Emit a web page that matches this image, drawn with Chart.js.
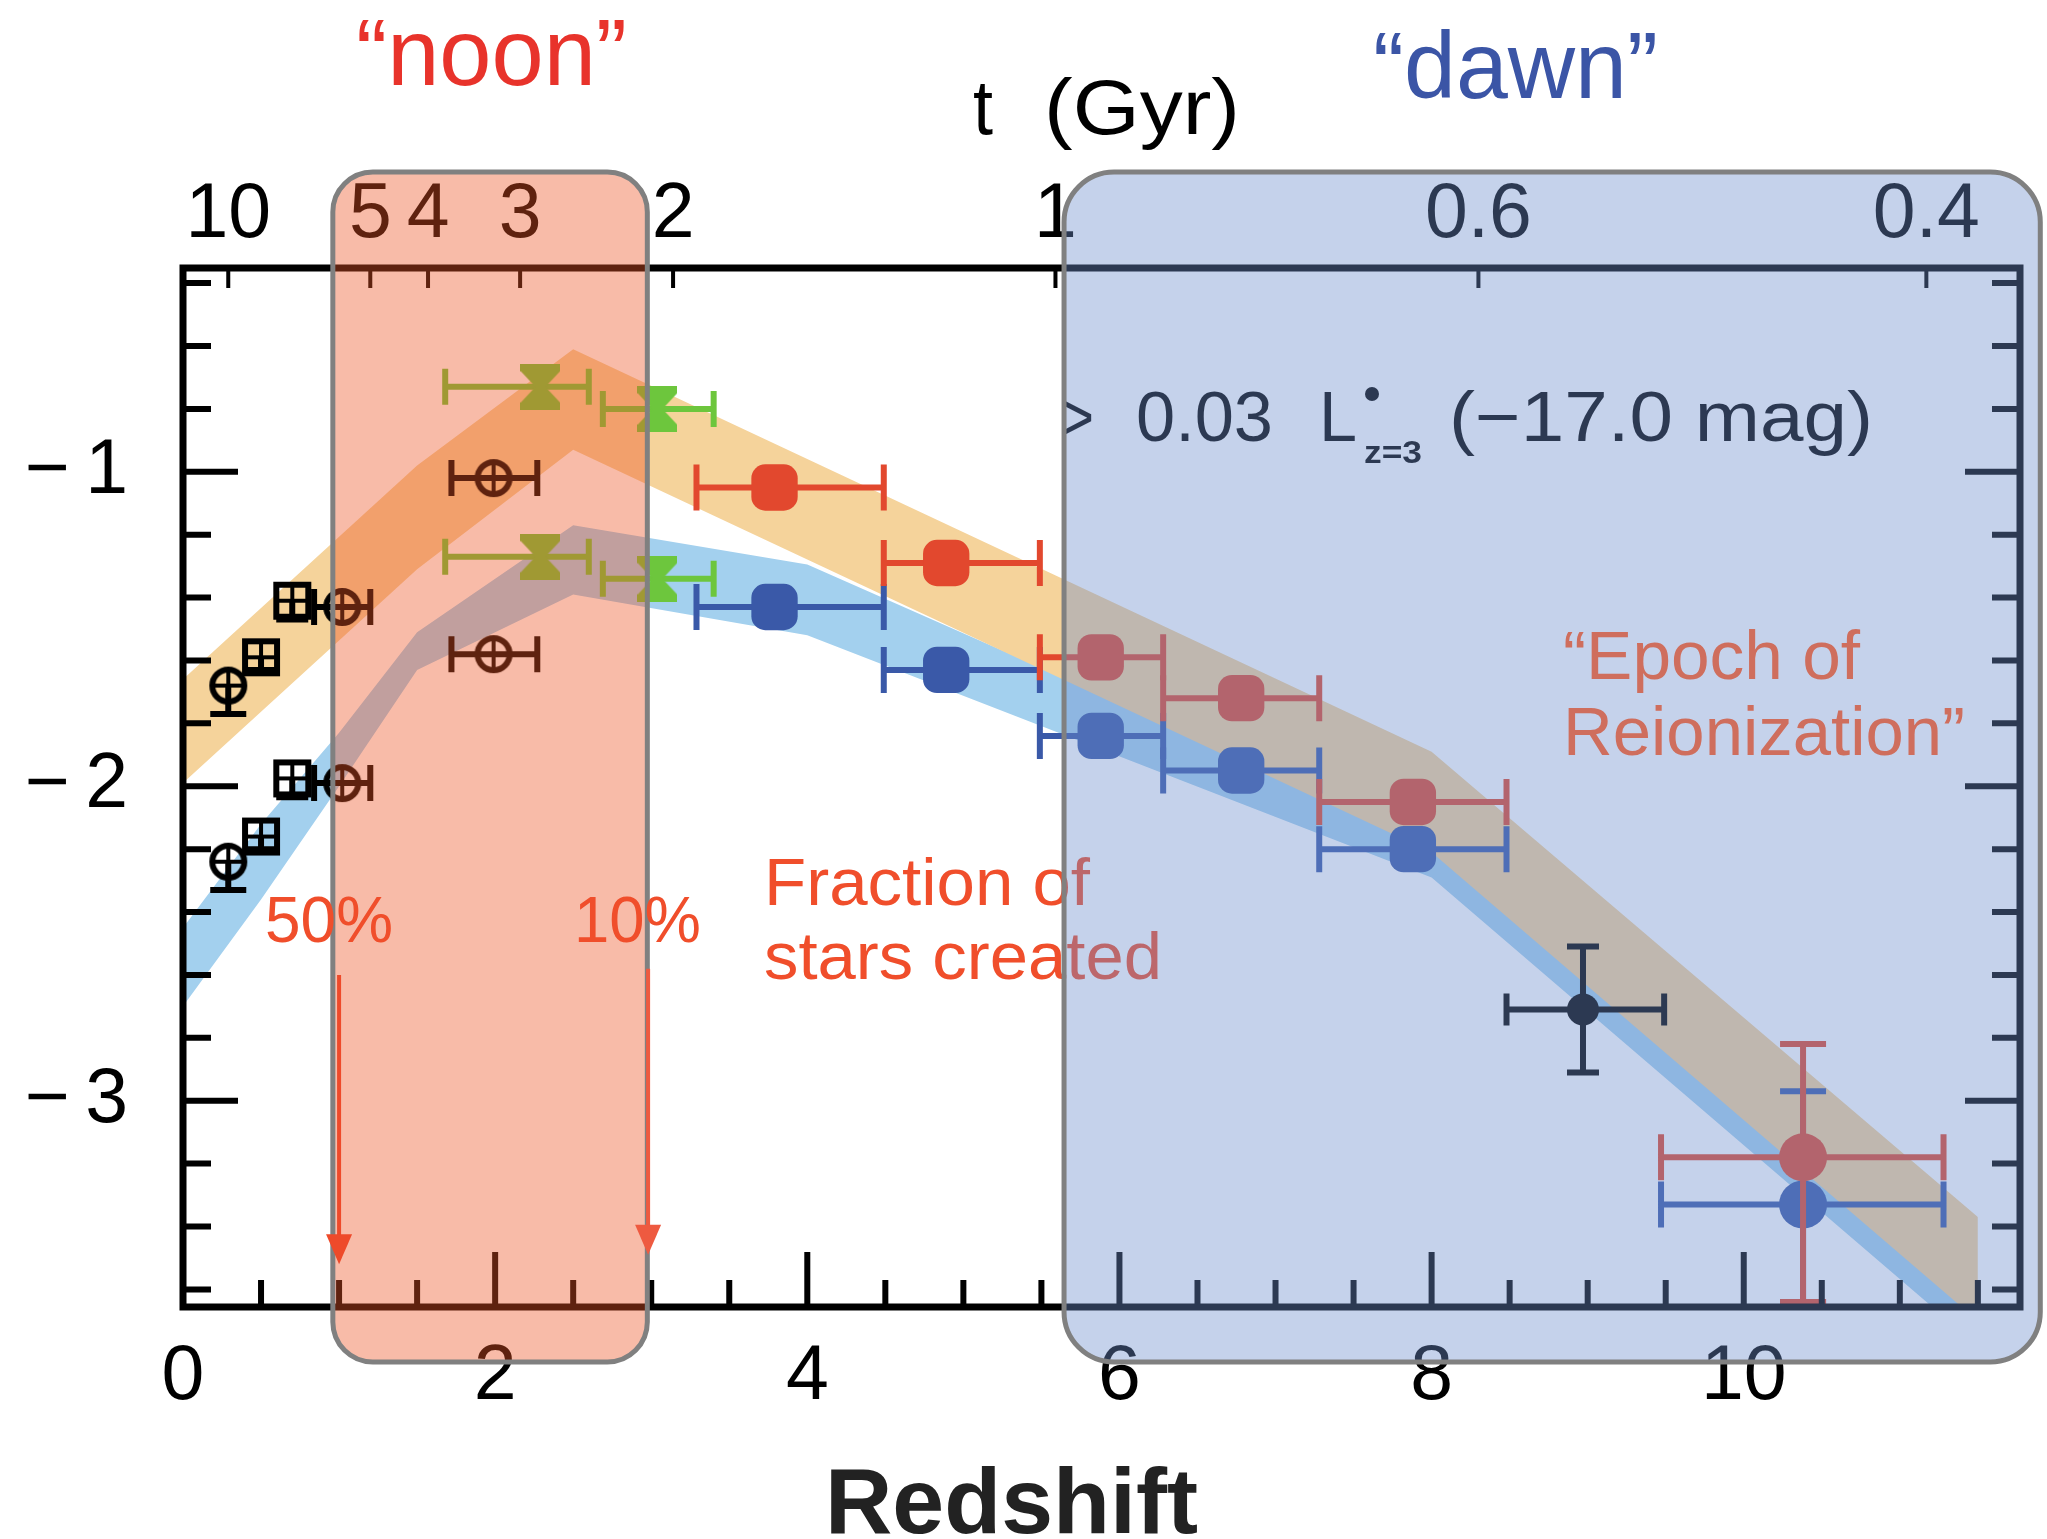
<!DOCTYPE html>
<html>
<head>
<meta charset="utf-8">
<script src="https://cdn.jsdelivr.net/npm/chart.js@4.4.1/dist/chart.umd.min.js"></script>
<style>
  html, body { margin: 0; padding: 0; background: #fff; }
  #chart { display: block; }
</style>
</head>
<body>
<canvas id="chart" width="2047" height="1539"></canvas>
<script>
const FONT = "'Liberation Sans', Arial, sans-serif";

// axis ranges: redshift (bottom) and log SFR density (left)
const zRange = [0, 11.77];
const yRange = [-3.656, -0.352];

// top axis: age of the universe in Gyr, placed at redshift
const ageLabels = ['10', '5', '4', '3', '2', '1', '0.6', '0.4'];
const ageAtZ = [0.29, 1.20, 1.57, 2.16, 3.14, 5.59, 8.30, 11.17];

// shaded bands (upper = dust corrected, lower = uncorrected)
const orangeZ = [0, 1.5, 2.5, 8.0, 11.5];
const orangeTop = [-1.66, -0.98, -0.61, -1.89, -3.37];
const orangeBottom = [-1.99, -1.31, -0.93, -2.21, -3.70];
const blueZ = [0, 0.5, 1.0, 1.5, 2.5, 4.0, 8.0, 11.5];
const blueTop = [-2.45, -2.12, -1.83, -1.51, -1.17, -1.295, -2.17, -3.60];
const blueBottom = [-2.70, -2.36, -2.00, -1.63, -1.39, -1.52, -2.29, -3.78];

// low-z black points, circles
const circZ = [0.29, 1.02, 1.99];
const circZLo = [null, 0.84, 1.72];
const circZHi = [null, 1.20, 2.27];
const circUpperY = [-1.68, -1.43, -1.02];
const circUpperYLo = [-1.77, null, null];
const circLowerY = [-2.24, -1.99, -1.58];
const circLowerYLo = [-2.33, null, null];

// low-z black points, squares
const sqZ = [0.50, 0.70];
const sqUpperY = [-1.59, -1.41];
const sqUpperYLo = [-1.63, -1.47];
const sqLowerY = [-2.16, -1.975];
const sqLowerYLo = [-2.20, -2.035];

// green points z~2-3
const greenZ = [2.29, 3.04];
const greenZLo = [1.68, 2.69];
const greenZHi = [2.60, 3.40];
const greenUpperY = [-0.73, -0.80];
const greenLowerY = [-1.27, -1.34];

// red / blue points z~4-10
const bZ = [3.79, 4.89, 5.88, 6.78, 7.88, 10.38];
const bZLo = [3.29, 4.49, 5.49, 6.28, 7.28, 9.47];
const bZHi = [4.49, 5.49, 6.28, 7.28, 8.48, 11.28];
const redY = [-1.05, -1.29, -1.59, -1.72, -2.05, -3.18];
const redYLo = [null, null, null, null, null, -3.64];
const redYHi = [null, null, null, null, null, -2.82];
const blueY = [-1.43, -1.63, -1.84, -1.95, -2.20, -3.33];
const blueYLo = [null, null, null, null, null, -3.64];
const blueYHi = [null, null, null, null, null, -2.97];

// z~9 point
const z9Z = [8.97];
const z9ZLo = [8.48];
const z9ZHi = [9.49];
const z9Y = [-2.71];
const z9YLo = [-2.91];
const z9YHi = [-2.51];

// highlighted redshift ranges
const noonRange = [0.96, 2.975];
const dawnRange = [5.645, 11.9];

function pts(xs, ys) {
  return xs.map((x, i) => ({ x, y: ys[i] }));
}

function errs(n, zLo, zHi, yLo, yHi) {
  const out = [];
  for (let i = 0; i < n; i++) {
    out.push({
      xLo: zLo ? zLo[i] : null, xHi: zHi ? zHi[i] : null,
      yLo: yLo ? yLo[i] : null, yHi: yHi ? yHi[i] : null
    });
  }
  return out;
}

function marker(w, h, draw) {
  const c = document.createElement('canvas');
  c.width = w; c.height = h;
  draw(c.getContext('2d'), w, h);
  return c;
}

const circCross = marker(42, 42, g => {
  g.strokeStyle = '#000';
  g.lineWidth = 6;
  g.beginPath(); g.arc(21, 21, 16, 0, Math.PI * 2); g.stroke();
  g.lineWidth = 4;
  g.beginPath(); g.moveTo(5, 21); g.lineTo(37, 21); g.moveTo(21, 5); g.lineTo(21, 37); g.stroke();
});

const sqCross = marker(40, 40, g => {
  g.strokeStyle = '#000';
  g.lineWidth = 6;
  g.strokeRect(4, 4, 32, 32);
  g.lineWidth = 4;
  g.beginPath(); g.moveTo(4, 20); g.lineTo(36, 20); g.moveTo(20, 4); g.lineTo(20, 36); g.stroke();
});

const hourglass = marker(40, 46, g => {
  g.fillStyle = '#6dc63d';
  g.beginPath();
  g.moveTo(0, 0); g.lineTo(40, 0); g.lineTo(40, 7); g.lineTo(25, 23); g.lineTo(40, 39);
  g.lineTo(40, 46); g.lineTo(0, 46); g.lineTo(0, 39); g.lineTo(15, 23); g.lineTo(0, 7);
  g.closePath(); g.fill();
});

const bandLine = { type: 'line', borderWidth: 0, borderColor: 'transparent', pointRadius: 0, tension: 0 };

const datasets = [
  { ...bandLine, data: pts(orangeZ, orangeTop), fill: false, order: 10 },
  { ...bandLine, data: pts(orangeZ, orangeBottom), fill: '-1', backgroundColor: '#f5d39b', order: 10 },
  { ...bandLine, data: pts(blueZ, blueTop), fill: false, order: 20 },
  { ...bandLine, data: pts(blueZ, blueBottom), fill: '-1', backgroundColor: '#a3d0ee', order: 20 },
  {
    data: pts(bZ, redY), errors: errs(bZ.length, bZLo, bZHi, redYLo, redYHi),
    errorColor: '#e2482e', errorWidth: 6, errorCap: 23,
    backgroundColor: '#e2482e', borderWidth: 0,
    pointStyle: ['rectRounded', 'rectRounded', 'rectRounded', 'rectRounded', 'rectRounded', 'circle'],
    pointRadius: [27, 27, 27, 27, 27, 24], order: 1
  },
  {
    data: pts(bZ, blueY), errors: errs(bZ.length, bZLo, bZHi, blueYLo, blueYHi),
    errorColor: '#3a59a8', errorWidth: 6, errorCap: 23,
    backgroundColor: '#3a59a8', borderWidth: 0,
    pointStyle: ['rectRounded', 'rectRounded', 'rectRounded', 'rectRounded', 'rectRounded', 'circle'],
    pointRadius: [27, 27, 27, 27, 27, 24], order: 2
  },
  {
    data: pts(z9Z, z9Y), errors: errs(1, z9ZLo, z9ZHi, z9YLo, z9YHi),
    errorColor: '#000', errorWidth: 6, errorCap: 16,
    backgroundColor: '#000', borderWidth: 0, pointStyle: 'circle', pointRadius: 16, order: 3
  },
  {
    data: pts(greenZ, greenUpperY), errors: errs(2, greenZLo, greenZHi),
    errorColor: '#6dc63d', errorWidth: 6, errorCap: 18,
    pointStyle: hourglass, pointRadius: 15, order: 4
  },
  {
    data: pts(greenZ, greenLowerY), errors: errs(2, greenZLo, greenZHi),
    errorColor: '#6dc63d', errorWidth: 6, errorCap: 18,
    pointStyle: hourglass, pointRadius: 15, order: 4
  },
  {
    data: pts(circZ, circUpperY), errors: errs(3, circZLo, circZHi, circUpperYLo),
    errorColor: '#000', errorWidth: 6, errorCap: 18,
    pointStyle: circCross, pointRadius: 15, order: 5
  },
  {
    data: pts(circZ, circLowerY), errors: errs(3, circZLo, circZHi, circLowerYLo),
    errorColor: '#000', errorWidth: 6, errorCap: 18,
    pointStyle: circCross, pointRadius: 15, order: 5
  },
  {
    data: pts(sqZ, sqUpperY), errors: errs(2, null, null, sqUpperYLo),
    errorColor: '#000', errorWidth: 6, errorCap: 16,
    pointStyle: sqCross, pointRadius: 15, order: 6
  },
  {
    data: pts(sqZ, sqLowerY), errors: errs(2, null, null, sqLowerYLo),
    errorColor: '#000', errorWidth: 6, errorCap: 16,
    pointStyle: sqCross, pointRadius: 15, order: 6
  }
];

// error bars drawn just before each point dataset
const errorBars = {
  id: 'errorBars',
  beforeDatasetDraw(chart, args) {
    const ds = chart.data.datasets[args.index];
    if (!ds.errors) return;
    const { ctx, chartArea: a, scales: { x, y } } = chart;
    ctx.save();
    ctx.beginPath();
    ctx.rect(a.left, a.top, a.right - a.left, a.bottom - a.top);
    ctx.clip();
    ctx.strokeStyle = ds.errorColor;
    ctx.lineWidth = ds.errorWidth;
    const c = ds.errorCap;
    ds.errors.forEach((e, i) => {
      const px = x.getPixelForValue(ds.data[i].x);
      const py = y.getPixelForValue(ds.data[i].y);
      ctx.beginPath();
      [e.xLo, e.xHi].forEach(v => {
        if (v == null) return;
        const q = x.getPixelForValue(v);
        ctx.moveTo(px, py); ctx.lineTo(q, py);
        ctx.moveTo(q, py - c); ctx.lineTo(q, py + c);
      });
      [e.yLo, e.yHi].forEach(v => {
        if (v == null) return;
        const q = y.getPixelForValue(v);
        ctx.moveTo(px, py); ctx.lineTo(px, q);
        ctx.moveTo(px - c, q); ctx.lineTo(px + c, q);
      });
      ctx.stroke();
    });
    ctx.restore();
  }
};

// frame with inward ticks on all four sides
const frameTicks = {
  id: 'frameTicks',
  afterDatasetsDraw(chart) {
    const { ctx, chartArea: a, scales: { x, y } } = chart;
    ctx.save();
    ctx.strokeStyle = '#000';
    ctx.lineWidth = 6;
    ctx.beginPath();
    for (let k = 1; k * 0.5 < zRange[1]; k++) {
      const px = x.getPixelForValue(k * 0.5);
      const len = k % 4 === 0 ? 55 : 27;
      ctx.moveTo(px, a.bottom); ctx.lineTo(px, a.bottom - len);
    }
    for (let k = -18; k <= -2; k++) {
      const py = y.getPixelForValue(k / 5);
      const len = k % 5 === 0 ? 55 : 28;
      ctx.moveTo(a.left, py); ctx.lineTo(a.left + len, py);
      ctx.moveTo(a.right, py); ctx.lineTo(a.right - len, py);
    }
    ctx.stroke();
    ctx.lineWidth = 4;
    ctx.beginPath();
    ageAtZ.forEach(v => {
      const px = x.getPixelForValue(v);
      ctx.moveTo(px, a.top); ctx.lineTo(px, a.top + 20);
    });
    ctx.stroke();
    ctx.lineWidth = 7;
    ctx.strokeRect(a.left, a.top, a.right - a.left, a.bottom - a.top);
    ctx.restore();
  }
};

function fitText(ctx, str, x, y, w, size, color, weight) {
  ctx.save();
  ctx.font = (weight || 'normal') + ' ' + size + 'px ' + FONT;
  ctx.fillStyle = color;
  ctx.textAlign = 'left';
  ctx.textBaseline = 'alphabetic';
  const m = ctx.measureText(str).width;
  ctx.translate(x, y);
  ctx.scale(w / m, 1);
  ctx.fillText(str, 0, 0);
  ctx.restore();
}

function roundBox(ctx, x0, x1, y0, y1, r, fill) {
  ctx.beginPath();
  ctx.roundRect(x0, y0, x1 - x0, y1 - y0, r);
  ctx.fillStyle = fill;
  ctx.fill();
  ctx.lineWidth = 5;
  ctx.strokeStyle = 'rgb(128,128,128)';
  ctx.stroke();
}

function arrow(ctx, px, y0, y1, color) {
  ctx.strokeStyle = color;
  ctx.fillStyle = color;
  ctx.lineWidth = 4;
  ctx.beginPath(); ctx.moveTo(px, y0); ctx.lineTo(px, y1 - 24); ctx.stroke();
  ctx.beginPath(); ctx.moveTo(px - 13, y1 - 30); ctx.lineTo(px + 13, y1 - 30); ctx.lineTo(px, y1); ctx.closePath(); ctx.fill();
}

const annotations = {
  id: 'annotations',
  afterDraw(chart) {
    const { ctx, chartArea: a, scales: { x, y } } = chart;
    ctx.save();

    // text that sits under the shaded boxes
    fitText(ctx, 't', 973, 134, 20, 78, '#000');
    fitText(ctx, '(Gyr)', 1044, 134, 196, 78, '#000');
    fitText(ctx, 'Redshift', 825, 1533, 373, 93, '#222', 'bold');

    fitText(ctx, '>', 1060, 441, 34, 70, '#000');
    fitText(ctx, '0.03', 1136, 441, 137, 70, '#000');
    fitText(ctx, 'L', 1319, 441, 38, 70, '#000');
    fitText(ctx, 'z=3', 1364, 463, 58, 32, '#000', 'bold');
    ctx.fillStyle = '#000';
    ctx.beginPath(); ctx.arc(1372, 394, 7, 0, Math.PI * 2); ctx.fill();
    fitText(ctx, '(\u221217.0 mag)', 1449, 441, 424, 70, '#000');

    fitText(ctx, 'Fraction of', 764, 905, 326, 67, '#f04e2b');
    fitText(ctx, 'stars created', 764, 979, 398, 67, '#f04e2b');

    // shaded boxes
    const boxTop = a.top - 96;
    const boxBottom = a.bottom + 55;
    roundBox(ctx, x.getPixelForValue(noonRange[0]), x.getPixelForValue(noonRange[1]),
      boxTop, boxBottom, 40, 'rgba(237,85,37,0.4)');
    roundBox(ctx, x.getPixelForValue(dawnRange[0]), x.getPixelForValue(dawnRange[1]),
      boxTop, boxBottom, 50, 'rgba(110,142,205,0.4)');

    // text on top of the boxes
    fitText(ctx, '50%', 265, 942, 128, 64, '#f04e2b');
    fitText(ctx, '10%', 574, 942, 127, 64, '#f04e2b');
    arrow(ctx, x.getPixelForValue(1.0), y.getPixelForValue(-2.6), y.getPixelForValue(-3.52), '#ee4a2a');
    arrow(ctx, x.getPixelForValue(2.98), y.getPixelForValue(-2.58), y.getPixelForValue(-3.49), '#ee5a40');

    fitText(ctx, '\u201CEpoch of', 1563, 679, 297, 69, '#cf6e5d');
    fitText(ctx, 'Reionization\u201D', 1563, 755, 402, 69, '#cf6e5d');

    fitText(ctx, '\u201Cnoon\u201D', 356, 85, 271, 95, '#e8332b');
    fitText(ctx, '\u201Cdawn\u201D', 1373, 98, 285, 95, '#3b55a6');

    ctx.restore();
  }
};

const tickFont = { family: FONT, size: 77 };

new Chart(document.getElementById('chart'), {
  type: 'scatter',
  data: { datasets },
  options: {
    responsive: false,
    animation: false,
    devicePixelRatio: 1,
    events: [],
    layout: { padding: 0 },
    plugins: { legend: { display: false }, tooltip: { enabled: false } },
    scales: {
      x: {
        type: 'linear', position: 'bottom', min: zRange[0], max: zRange[1],
        grid: { display: false, drawTicks: false }, border: { display: false },
        ticks: { stepSize: 2, includeBounds: false, maxRotation: 0, padding: 25, font: tickFont, color: '#000' },
        afterFit: s => { s.height = 232; }
      },
      xTop: {
        type: 'linear', position: 'top', min: zRange[0], max: zRange[1],
        grid: { display: false, drawTicks: false }, border: { display: false },
        afterBuildTicks: s => { s.ticks = ageAtZ.map(v => ({ value: v })); },
        ticks: {
          autoSkip: false, maxRotation: 0, padding: 6, font: tickFont, color: '#000',
          callback: (v, i) => ageLabels[i]
        },
        afterFit: s => { s.height = 268; }
      },
      y: {
        type: 'linear', position: 'left', min: yRange[0], max: yRange[1],
        grid: { display: false, drawTicks: false }, border: { display: false },
        ticks: {
          stepSize: 1, includeBounds: false, padding: 55, font: tickFont, color: '#000',
          callback: v => '\u2212\u2009' + Math.abs(v)
        },
        afterFit: s => { s.width = 183; }
      },
      yRight: {
        type: 'linear', position: 'right', min: yRange[0], max: yRange[1],
        grid: { display: false, drawTicks: false }, border: { display: false },
        ticks: { display: false },
        afterFit: s => { s.width = 21; }
      }
    }
  },
  plugins: [errorBars, frameTicks, annotations]
});
</script>
</body>
</html>
